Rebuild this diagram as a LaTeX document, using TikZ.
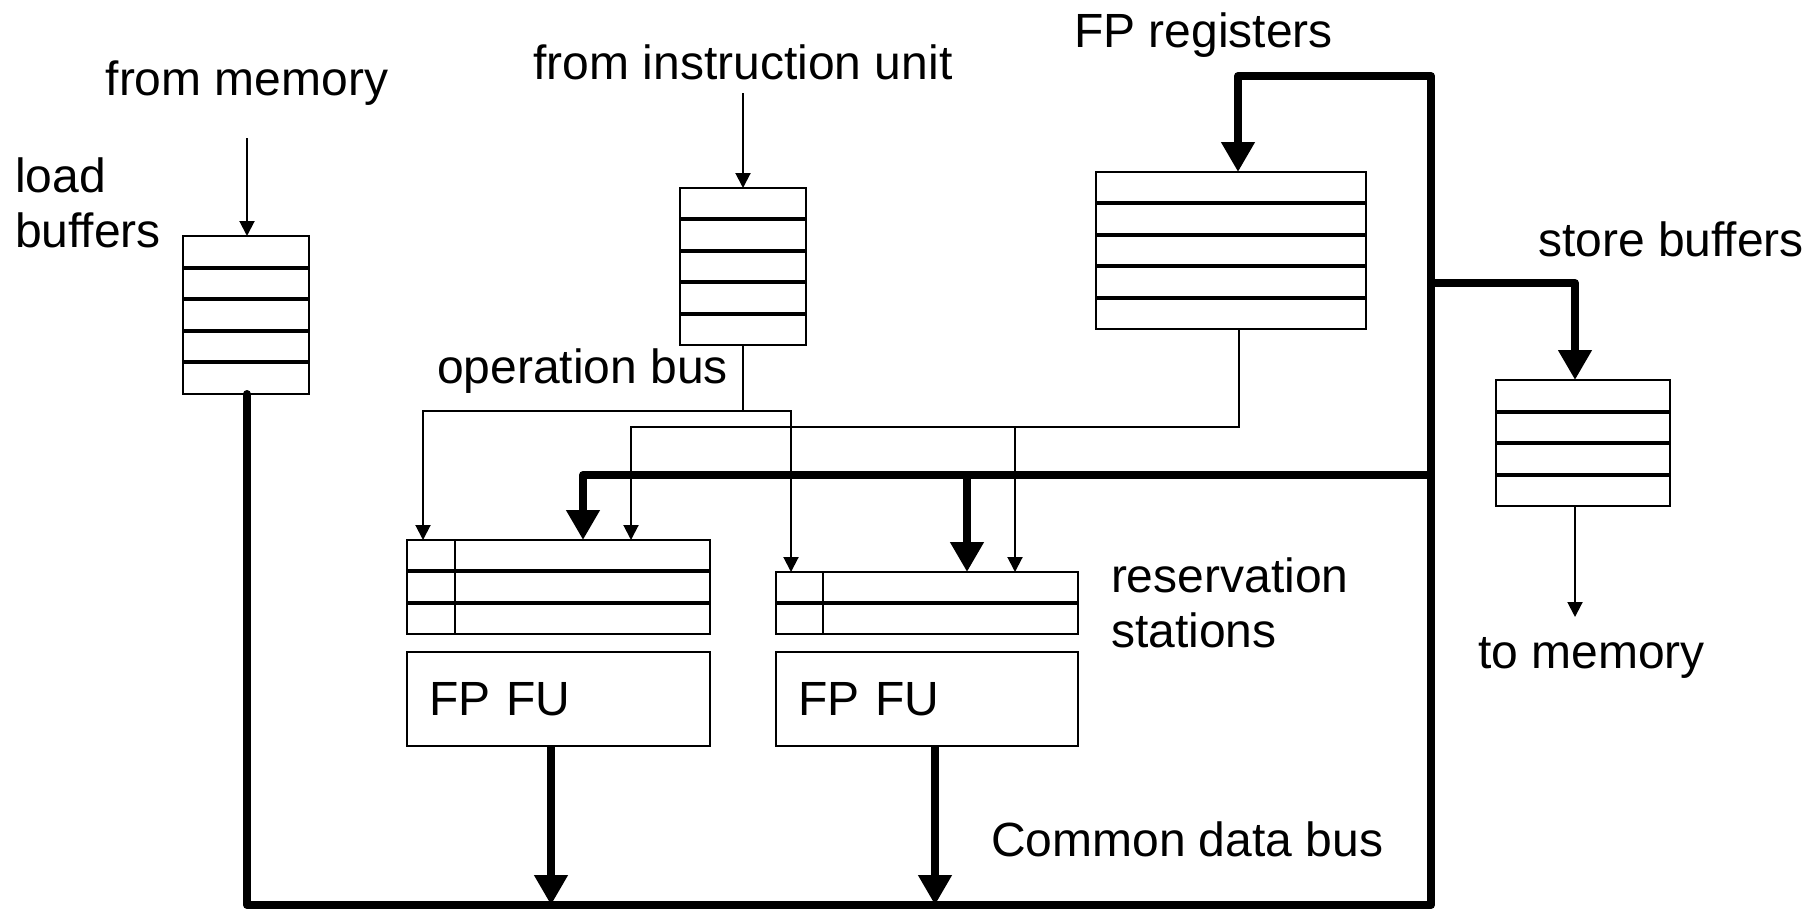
\documentclass[tikz,border=0pt]{standalone}
\usepackage{fontspec}
\setmainfont{Liberation Sans}
\usetikzlibrary{arrows.meta,calc}
\tikzset{
  tipS/.tip={Triangle[length=15pt,width=15pt]},
  tipL/.tip={Triangle[length=30pt,width=32pt]},
  box/.style={draw, line width=2pt, inner sep=0pt, outer sep=0pt, anchor=north west},
  rows/.style={path picture={
    \foreach \k in {1,...,#1}{
      \draw[line width=4pt]
        ($(path picture bounding box.north west)!{\k/(#1+1)}!(path picture bounding box.south west)$) --
        ($(path picture bounding box.north east)!{\k/(#1+1)}!(path picture bounding box.south east)$);
    }}},
  lbl/.style={inner sep=0pt, outer sep=0pt},
  conn/.style={line width=2pt, line join=miter},
  bus/.style={line width=8pt, line join=round},
}
\begin{document}
\begin{tikzpicture}[x=1pt,y=-1pt,font=\fontsize{48}{55}\selectfont]
\useasboundingbox (0,0) rectangle (1820,910);

% boxes
\node[box, rows=4, minimum width=126pt, minimum height=158pt] (lb) at (183,236) {};
\node[box, rows=4, minimum width=126pt, minimum height=157pt] (iq) at (680,188) {};
\node[box, rows=4, minimum width=270pt, minimum height=157pt] (fpr) at (1096,172) {};
\node[box, rows=3, minimum width=174pt, minimum height=126pt] (sb) at (1496,380) {};
\node[box, rows=2, minimum width=303pt, minimum height=94pt] (rs1) at (407,540) {};
\node[box, rows=1, minimum width=302pt, minimum height=62pt] (rs2) at (776,572) {};
\draw[conn] ([xshift=48pt]rs1.north west) -- ([xshift=48pt]rs1.south west);
\draw[conn] ([xshift=47pt]rs2.north west) -- ([xshift=47pt]rs2.south west);
\node[box, minimum width=303pt, minimum height=94pt, text width=259pt, inner xsep=22pt, align=left] (fu1) at (407,652) {FP FU};
\node[box, minimum width=302pt, minimum height=94pt, text width=258pt, inner xsep=22pt, align=left] (fu2) at (776,652) {FP FU};

% labels
\node[lbl, anchor=base] (tfm) at (247,95) {from memory};
\node[lbl, anchor=base west, align=left] (tlb) at (15,247) {load\\buffers};
\node[lbl, anchor=base] (tiu) at (743,79) {from instruction unit};
\node[lbl, anchor=base west] (tfr) at (1074,47) {FP registers};
\node[lbl, anchor=base west] (tob) at (437,383) {operation bus};
\node[lbl, anchor=base west] (tsb) at (1538,256) {store buffers};
\node[lbl, anchor=base west, align=left] (trs) at (1111,647) {reservation\\stations};
\node[lbl, anchor=base west] (ttm) at (1478,668) {to memory};
\node[lbl, anchor=base west] (tcdb) at (991,856) {Common data bus};

% coordinates
\coordinate (memin) at (247,138);
\coordinate (iuin) at (743,93);
\coordinate (obJ) at (743,411);
\coordinate (obL) at (423,411);
\coordinate (obR) at (791,411);
\coordinate (frJ) at (1239,427);
\coordinate (frL) at (631,427);
\coordinate (frR) at (1015,427);
\coordinate (cdbBL) at (247,905);
\coordinate (cdbBR) at (1431,905);
\coordinate (cdbTR) at (1431,76);
\coordinate (cdbTL) at (1238,76);
\coordinate (cdbS) at (1431,283);
\coordinate (cdbSR) at (1575,283);
\coordinate (cdbM) at (1431,475);
\coordinate (cdbML) at (583,475);
\coordinate (cdbMM) at (967,475);
\coordinate (fu1o) at (551,905);
\coordinate (fu2o) at (935,905);
\coordinate (tomem) at (1575,617);

% thin connectors
\draw[conn, -tipS] (memin) -- (memin |- lb.north);
\draw[conn, -tipS] (iuin) -- (iuin |- iq.north);
\draw[conn] (iq.south -| obJ) -- (obJ);
\draw[conn, tipS-tipS] (obL |- rs1.north) -- (obL) -- (obR) -- (obR |- rs2.north);
\draw[conn, tipS-] (frL |- rs1.north) -- (frL) -- (frJ) -- (frJ |- fpr.south);
\draw[conn, -tipS] (frR) -- (frR |- rs2.north);
\draw[conn, -tipS] (cdbSR |- sb.south) -- (tomem);

% common data bus
\draw[bus, line cap=round, -tipL] (lb.south -| cdbBL) -- (cdbBL) -- (cdbBR) -- (cdbTR) -- (cdbTL) -- (cdbTL |- fpr.north);
\draw[bus, -tipL] (cdbS) -- (cdbSR) -- (cdbSR |- sb.north);
\draw[bus, tipL-] (cdbML |- rs1.north) -- (cdbML) -- (cdbM);
\draw[bus, -tipL] (cdbMM) -- (cdbMM |- rs2.north);
\draw[bus, -tipL] (fu1.south -| fu1o) -- (fu1o);
\draw[bus, -tipL] (fu2.south -| fu2o) -- (fu2o);
\end{tikzpicture}
\end{document}
